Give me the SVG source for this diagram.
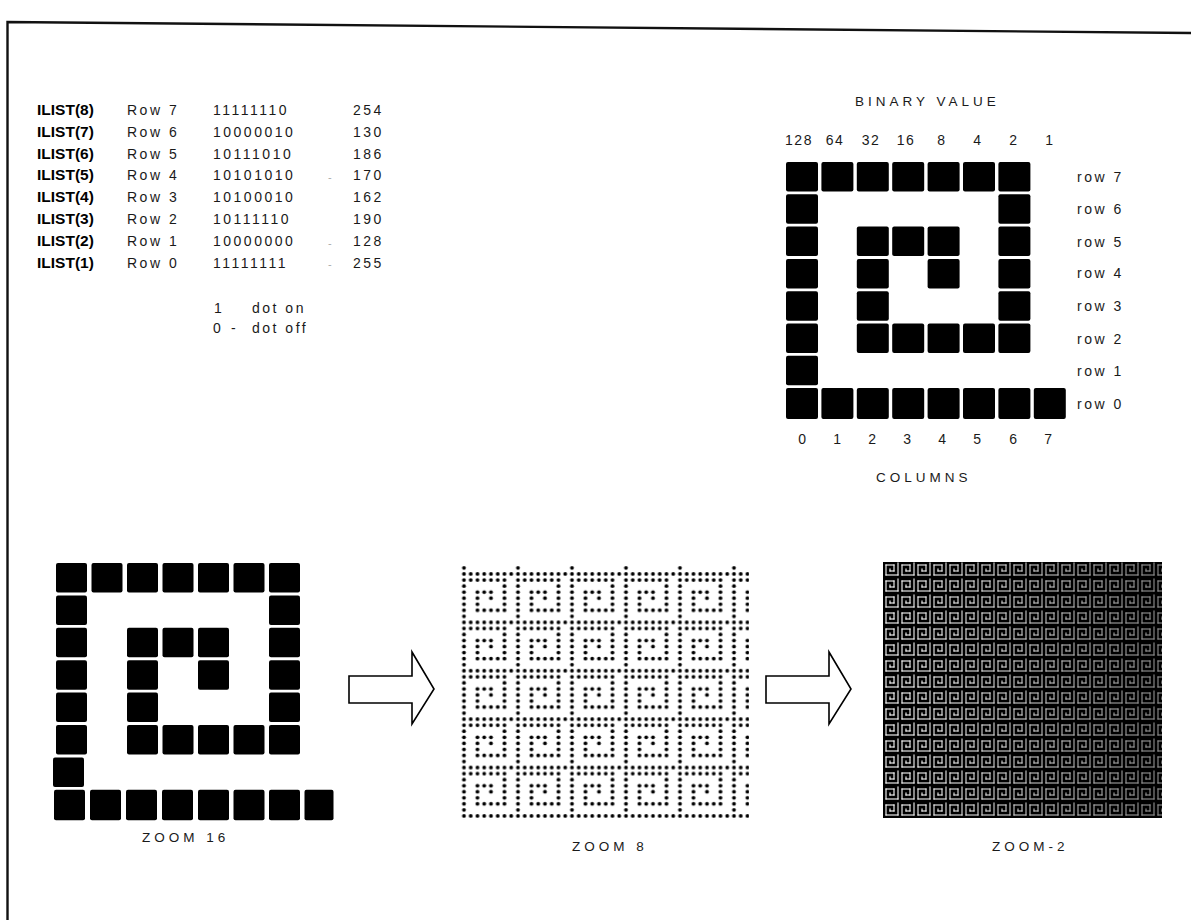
<svg xmlns="http://www.w3.org/2000/svg" width="1191" height="920" viewBox="0 0 1191 920">
<style>
  .t { font-family: "Liberation Sans", Arial, Helvetica, sans-serif; font-size: 14px; letter-spacing: 2.5px; fill: #1a1a1a; }
  .b { font-family: "Liberation Sans", Arial, Helvetica, sans-serif; font-size: 15.5px; font-weight: bold; fill: #000; }
  .cap { font-family: "Liberation Sans", Arial, Helvetica, sans-serif; font-size: 13.5px; letter-spacing: 4px; fill: #1a1a1a; }
  .num { font-family: "Liberation Sans", Arial, Helvetica, sans-serif; font-size: 14px; letter-spacing: 1.5px; fill: #1a1a1a; text-anchor: middle; }
  .dash { font-family: "Liberation Sans", Arial, sans-serif; font-size: 11px; fill: #aaa; }
  .px { fill: #000; }
  .arrow { fill: #fff; stroke: #000; stroke-width: 1.6; stroke-linejoin: miter; }
  .frame { fill: none; stroke: #111; stroke-width: 2.4; }
</style>
<defs>
  <pattern id="dots8" patternUnits="userSpaceOnUse" x="460.6" y="576.98" width="54" height="48.4">
    <g fill="#000">
      <circle cx="3.375" cy="3.025" r="1.9"/><circle cx="10.125" cy="3.025" r="1.9"/><circle cx="16.875" cy="3.025" r="1.9"/><circle cx="23.625" cy="3.025" r="1.9"/><circle cx="30.375" cy="3.025" r="1.9"/><circle cx="37.125" cy="3.025" r="1.9"/><circle cx="43.875" cy="3.025" r="1.9"/>
      <circle cx="3.375" cy="9.075" r="1.9"/><circle cx="43.875" cy="9.075" r="1.9"/>
      <circle cx="3.375" cy="15.125" r="1.9"/><circle cx="16.875" cy="15.125" r="1.9"/><circle cx="23.625" cy="15.125" r="1.9"/><circle cx="30.375" cy="15.125" r="1.9"/><circle cx="43.875" cy="15.125" r="1.9"/>
      <circle cx="3.375" cy="21.175" r="1.9"/><circle cx="16.875" cy="21.175" r="1.9"/><circle cx="30.375" cy="21.175" r="1.9"/><circle cx="43.875" cy="21.175" r="1.9"/>
      <circle cx="3.375" cy="27.225" r="1.9"/><circle cx="16.875" cy="27.225" r="1.9"/><circle cx="43.875" cy="27.225" r="1.9"/>
      <circle cx="3.375" cy="33.275" r="1.9"/><circle cx="16.875" cy="33.275" r="1.9"/><circle cx="23.625" cy="33.275" r="1.9"/><circle cx="30.375" cy="33.275" r="1.9"/><circle cx="37.125" cy="33.275" r="1.9"/><circle cx="43.875" cy="33.275" r="1.9"/>
      <circle cx="3.375" cy="39.325" r="1.9"/>
      <circle cx="3.375" cy="45.375" r="1.9"/><circle cx="10.125" cy="45.375" r="1.9"/><circle cx="16.875" cy="45.375" r="1.9"/><circle cx="23.625" cy="45.375" r="1.9"/><circle cx="30.375" cy="45.375" r="1.9"/><circle cx="37.125" cy="45.375" r="1.9"/><circle cx="43.875" cy="45.375" r="1.9"/><circle cx="50.625" cy="45.375" r="1.9"/>
    </g>
  </pattern>
  <pattern id="pix2" patternUnits="userSpaceOnUse" x="883" y="562" width="16" height="16">
    <g fill="#fff">
      <rect x="14.45" y="0.45" width="1.1" height="13.1"/>
      <rect x="2.45" y="2.45" width="9.1" height="1.1"/>
      <rect x="2.45" y="2.45" width="1.1" height="11.1"/>
      <rect x="10.45" y="2.45" width="1.1" height="7.1"/>
      <rect x="2.45" y="12.45" width="13.1" height="1.1"/>
      <rect x="6.45" y="8.45" width="5.1" height="1.1"/>
      <rect x="6.45" y="6.45" width="1.1" height="3.1"/>
    </g>
  </pattern>
  <linearGradient id="ink" x1="0" y1="0" x2="1" y2="0">
    <stop offset="0" stop-color="#000" stop-opacity="0"/>
    <stop offset="0.25" stop-color="#000" stop-opacity="0.1"/>
    <stop offset="1" stop-color="#000" stop-opacity="0.45"/>
  </linearGradient>
  <clipPath id="clip8"><rect x="460" y="565" width="289" height="255"/></clipPath>
</defs>

<g id="frame">
  <path class="frame" d="M7.5,920 L7.5,22 L1191,33"/>
</g>

<g id="ilist-table">
  <text class="b" x="37" y="115">ILIST(8)</text><text class="t" x="127" y="115">Row 7</text><text class="t" x="213" y="115">11111110</text><text class="t" x="353" y="115">254</text>
  <text class="b" x="37" y="136.8">ILIST(7)</text><text class="t" x="127" y="136.8">Row 6</text><text class="t" x="213" y="136.8">10000010</text><text class="t" x="353" y="136.8">130</text>
  <text class="b" x="37" y="158.6">ILIST(6)</text><text class="t" x="127" y="158.6">Row 5</text><text class="t" x="213" y="158.6">10111010</text><text class="t" x="353" y="158.6">186</text>
  <text class="b" x="37" y="180.4">ILIST(5)</text><text class="t" x="127" y="180.4">Row 4</text><text class="t" x="213" y="180.4">10101010</text><text class="dash" x="328" y="181">-</text><text class="t" x="353" y="180.4">170</text>
  <text class="b" x="37" y="202.2">ILIST(4)</text><text class="t" x="127" y="202.2">Row 3</text><text class="t" x="213" y="202.2">10100010</text><text class="t" x="353" y="202.2">162</text>
  <text class="b" x="37" y="224">ILIST(3)</text><text class="t" x="127" y="224">Row 2</text><text class="t" x="213" y="224">10111110</text><text class="t" x="353" y="224">190</text>
  <text class="b" x="37" y="245.8">ILIST(2)</text><text class="t" x="127" y="245.8">Row 1</text><text class="t" x="213" y="245.8">10000000</text><text class="dash" x="328" y="246.5">-</text><text class="t" x="353" y="245.8">128</text>
  <text class="b" x="37" y="267.6">ILIST(1)</text><text class="t" x="127" y="267.6">Row 0</text><text class="t" x="213" y="267.6">11111111</text><text class="dash" x="328" y="268">-</text><text class="t" x="353" y="267.6">255</text>
  <text class="t" x="214" y="313">1</text><text class="t" x="252" y="313">dot on</text>
  <text class="t" x="213" y="333">0</text><text class="t" x="231" y="333">-</text><text class="t" x="252" y="333">dot off</text>
</g>

<g id="binary-grid">
  <text class="cap" x="855" y="106">BINARY VALUE</text>
  <text class="num" x="799" y="145">128</text><text class="num" x="835" y="145">64</text><text class="num" x="871" y="145">32</text><text class="num" x="906" y="145">16</text><text class="num" x="942" y="145">8</text><text class="num" x="978" y="145">4</text><text class="num" x="1014" y="145">2</text><text class="num" x="1050" y="145">1</text>
  <g class="px">
    <rect x="786" y="162" width="32" height="29.5" rx="2"/><rect x="821.4" y="162" width="32" height="29.5" rx="2"/><rect x="856.8" y="162" width="32" height="29.5" rx="2"/><rect x="892.2" y="162" width="32" height="29.5" rx="2"/><rect x="927.6" y="162" width="32" height="29.5" rx="2"/><rect x="963" y="162" width="32" height="29.5" rx="2"/><rect x="998.4" y="162" width="32" height="29.5" rx="2"/>
    <rect x="786" y="194.3" width="32" height="29.5" rx="2"/><rect x="998.4" y="194.3" width="32" height="29.5" rx="2"/>
    <rect x="786" y="226.6" width="32" height="29.5" rx="2"/><rect x="856.8" y="226.6" width="32" height="29.5" rx="2"/><rect x="892.2" y="226.6" width="32" height="29.5" rx="2"/><rect x="927.6" y="226.6" width="32" height="29.5" rx="2"/><rect x="998.4" y="226.6" width="32" height="29.5" rx="2"/>
    <rect x="786" y="258.9" width="32" height="29.5" rx="2"/><rect x="856.8" y="258.9" width="32" height="29.5" rx="2"/><rect x="927.6" y="258.9" width="32" height="29.5" rx="2"/><rect x="998.4" y="258.9" width="32" height="29.5" rx="2"/>
    <rect x="786" y="291.2" width="32" height="29.5" rx="2"/><rect x="856.8" y="291.2" width="32" height="29.5" rx="2"/><rect x="998.4" y="291.2" width="32" height="29.5" rx="2"/>
    <rect x="786" y="323.5" width="32" height="29.5" rx="2"/><rect x="856.8" y="323.5" width="32" height="29.5" rx="2"/><rect x="892.2" y="323.5" width="32" height="29.5" rx="2"/><rect x="927.6" y="323.5" width="32" height="29.5" rx="2"/><rect x="963" y="323.5" width="32" height="29.5" rx="2"/><rect x="998.4" y="323.5" width="32" height="29.5" rx="2"/>
    <rect x="786" y="355.8" width="32" height="29.5" rx="2"/>
    <rect x="786" y="388.1" width="32" height="31" rx="2"/><rect x="821.4" y="388.1" width="32" height="31" rx="2"/><rect x="856.8" y="388.1" width="32" height="31" rx="2"/><rect x="892.2" y="388.1" width="32" height="31" rx="2"/><rect x="927.6" y="388.1" width="32" height="31" rx="2"/><rect x="963" y="388.1" width="32" height="31" rx="2"/><rect x="998.4" y="388.1" width="32" height="31" rx="2"/><rect x="1033.8" y="388.1" width="32" height="31" rx="2"/>
  </g>
  <text class="t" x="1077" y="182">row 7</text>
  <text class="t" x="1077" y="214">row 6</text>
  <text class="t" x="1077" y="247">row 5</text>
  <text class="t" x="1077" y="278">row 4</text>
  <text class="t" x="1077" y="311">row 3</text>
  <text class="t" x="1077" y="344">row 2</text>
  <text class="t" x="1077" y="376">row 1</text>
  <text class="t" x="1077" y="409">row 0</text>
  <text class="num" x="803" y="444">0</text><text class="num" x="838" y="444">1</text><text class="num" x="873" y="444">2</text><text class="num" x="908" y="444">3</text><text class="num" x="943" y="444">4</text><text class="num" x="978" y="444">5</text><text class="num" x="1014" y="444">6</text><text class="num" x="1049" y="444">7</text>
  <text class="cap" x="876" y="482">COLUMNS</text>
</g>

<g id="zoom16">
  <g class="px">
    <rect x="56" y="563" width="31" height="29.5" rx="2"/><rect x="91.5" y="563" width="31" height="29.5" rx="2"/><rect x="127" y="563" width="31" height="29.5" rx="2"/><rect x="162.5" y="563" width="31" height="29.5" rx="2"/><rect x="198" y="563" width="31" height="29.5" rx="2"/><rect x="233.5" y="563" width="31" height="29.5" rx="2"/><rect x="269" y="563" width="31" height="29.5" rx="2"/>
    <rect x="56" y="595.4" width="31" height="29.5" rx="2"/><rect x="269" y="595.4" width="31" height="29.5" rx="2"/>
    <rect x="56" y="627.8" width="31" height="29.5" rx="2"/><rect x="127" y="627.8" width="31" height="29.5" rx="2"/><rect x="162.5" y="627.8" width="31" height="29.5" rx="2"/><rect x="198" y="627.8" width="31" height="29.5" rx="2"/><rect x="269" y="627.8" width="31" height="29.5" rx="2"/>
    <rect x="56" y="660.2" width="31" height="29.5" rx="2"/><rect x="127" y="660.2" width="31" height="29.5" rx="2"/><rect x="198" y="660.2" width="31" height="29.5" rx="2"/><rect x="269" y="660.2" width="31" height="29.5" rx="2"/>
    <rect x="56" y="692.6" width="31" height="29.5" rx="2"/><rect x="127" y="692.6" width="31" height="29.5" rx="2"/><rect x="269" y="692.6" width="31" height="29.5" rx="2"/>
    <rect x="56" y="725" width="31" height="29.5" rx="2"/><rect x="127" y="725" width="31" height="29.5" rx="2"/><rect x="162.5" y="725" width="31" height="29.5" rx="2"/><rect x="198" y="725" width="31" height="29.5" rx="2"/><rect x="233.5" y="725" width="31" height="29.5" rx="2"/><rect x="269" y="725" width="31" height="29.5" rx="2"/>
    <rect x="53" y="757.4" width="31" height="29.5" rx="2"/>
    <rect x="54" y="789.8" width="31" height="30.5" rx="2"/><rect x="90" y="789.8" width="31" height="30.5" rx="2"/><rect x="126" y="789.8" width="31" height="30.5" rx="2"/><rect x="162" y="789.8" width="31" height="30.5" rx="2"/><rect x="198" y="789.8" width="31" height="30.5" rx="2"/><rect x="233.5" y="789.8" width="31" height="30.5" rx="2"/><rect x="269" y="789.8" width="31" height="30.5" rx="2"/><rect x="304.5" y="789.8" width="29" height="30.5" rx="2"/>
  </g>
  <text class="cap" x="142" y="842">ZOOM 16</text>
</g>

<g id="zoom8">
  <rect x="460" y="565" width="289" height="255" fill="url(#dots8)" clip-path="url(#clip8)"/>
  <text class="cap" x="572" y="851">ZOOM 8</text>
</g>

<g id="zoom2">
  <rect x="883" y="562" width="279" height="256" fill="#000"/>
  <rect x="883" y="562" width="279" height="256" fill="url(#pix2)"/>
  <rect x="883" y="562" width="279" height="256" fill="url(#ink)"/>
  <text class="cap" x="992" y="851">ZOOM-2</text>
</g>

<g id="connectors">
  <path class="arrow" d="M349,676 L412,676 L412,652 L434,689 L412,724 L412,703 L349,703 Z"/>
  <path class="arrow" d="M766,676 L829,676 L829,652 L851,689 L829,724 L829,703 L766,703 Z"/>
</g>
</svg>
